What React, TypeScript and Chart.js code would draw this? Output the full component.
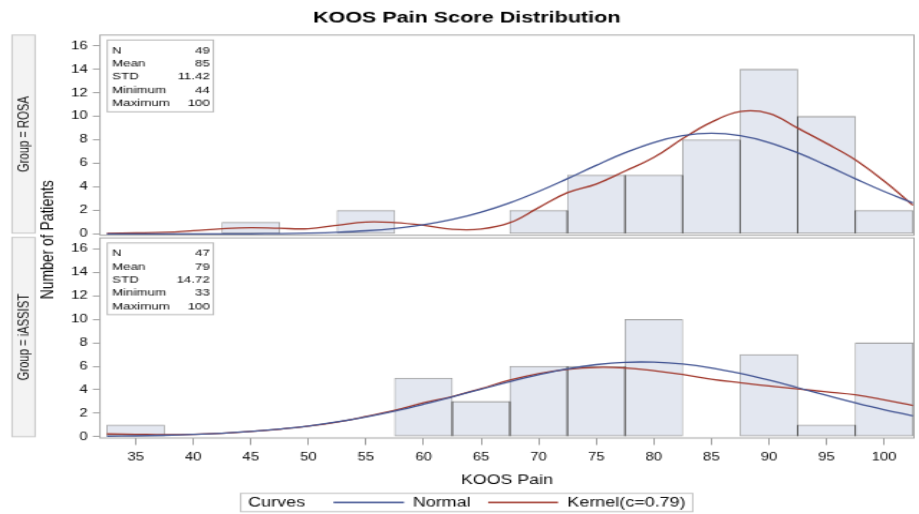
import React, { useEffect, useRef } from 'react';
import { Chart, registerables } from 'chart.js';

Chart.register(...registerables);

const FONT = '"Liberation Sans", Arial, Helvetica, sans-serif';

// ---- data ----
const chartTitle = 'KOOS Pain Score Distribution';
const xTitle = 'KOOS Pain';
const yTitle = 'Number of Patients';
const groupLabels = ['Group = ROSA', 'Group = iASSIST'];
const legendTitle = 'Curves';
const legendLabels = ['Normal', 'Kernel(c=0.79)'];

const xTicks = [35, 40, 45, 50, 55, 60, 65, 70, 75, 80, 85, 90, 95, 100];
const yTicks = [0, 2, 4, 6, 8, 10, 12, 14, 16];

const binCenters = [35, 40, 45, 50, 55, 60, 65, 70, 75, 80, 85, 90, 95, 100];
const rosaCounts = [0, 0, 1, 0, 2, 0, 0, 2, 5, 5, 8, 14, 10, 2];
const iassistCounts = [1, 0, 0, 0, 0, 5, 3, 6, 6, 10, 0, 7, 1, 8];

const curveX = [32.5, 35, 37.5, 40, 42.5, 45, 47.5, 50, 52.5, 55, 57.5, 60, 62.5, 65, 67.5, 70, 72.5, 75, 77.5, 80, 82.5, 85, 87.5, 90, 92.5, 95, 97.5, 100, 102.5];
const rosaNormal = [0.0002, 0.0006, 0.0015, 0.0036, 0.0084, 0.019, 0.039, 0.078, 0.149, 0.272, 0.472, 0.78, 1.229, 1.848, 2.645, 3.613, 4.702, 5.834, 6.899, 7.778, 8.357, 8.56, 8.357, 7.778, 6.899, 5.834, 4.702, 3.613, 2.645];
const rosaKernel = [0.06, 0.09, 0.14, 0.28, 0.45, 0.54, 0.48, 0.45, 0.74, 1.02, 0.97, 0.74, 0.4, 0.42, 0.96, 2.24, 3.51, 4.25, 5.35, 6.5, 8.1, 9.5, 10.4, 10.25, 9.0, 7.7, 6.3, 4.5, 2.45];
const iassistNormal = [0.043, 0.073, 0.12, 0.19, 0.29, 0.44, 0.65, 0.91, 1.26, 1.69, 2.19, 2.77, 3.4, 4.05, 4.69, 5.28, 5.78, 6.14, 6.34, 6.35, 6.19, 5.86, 5.39, 4.82, 4.18, 3.53, 2.89, 2.3, 1.78];
const iassistKernel = [0.23, 0.2, 0.17, 0.2, 0.29, 0.44, 0.64, 0.9, 1.25, 1.72, 2.25, 2.88, 3.42, 4.1, 4.82, 5.38, 5.74, 5.91, 5.86, 5.63, 5.31, 4.9, 4.6, 4.32, 4.08, 3.82, 3.57, 3.15, 2.67];

const statLabels = ['N', 'Mean', 'STD', 'Minimum', 'Maximum'];
const rosaStats = ['49', '85', '11.42', '44', '100'];
const iassistStats = ['47', '79', '14.72', '33', '100'];

// ---- styles ----
const BLUE = '#445694';
const RED = '#A23A2E';
const BAR_FILL = '#e3e7f0';
const BAR_EDGE = '#9c9c9c';
const TEXT = '#0a0a0a';

export default function App() {
  const ref = useRef<HTMLCanvasElement>(null);

  useEffect(() => {
    const canvas = ref.current;
    if (!canvas) return;

    const toBars = (counts: number[]) =>
      binCenters.map((x, i) => ({ x, y: counts[i] === 0 ? null : counts[i] }));
    const toCurve = (vals: number[]) => curveX.map((x, i) => ({ x, y: vals[i] }));

    const barDs = (label: string, counts: number[], axis: string) => ({
      type: 'bar' as const,
      label,
      data: toBars(counts),
      yAxisID: axis,
      xAxisID: 'x',
      backgroundColor: BAR_FILL,
      borderColor: BAR_EDGE,
      borderWidth: { top: 1.1, bottom: 1, left: 0.75, right: 0.75 },
      borderSkipped: false,
      grouped: false,
      barPercentage: 1,
      categoryPercentage: 1,
      order: 2,
    });
    const lineDs = (label: string, vals: number[], axis: string, color: string) => ({
      type: 'line' as const,
      label,
      data: toCurve(vals),
      yAxisID: axis,
      xAxisID: 'x',
      borderColor: color,
      borderWidth: 1.3,
      pointRadius: 0,
      tension: 0.4,
      fill: false,
      order: 1,
    });

    const yScale = (min: number, max: number, weight: number) => ({
      type: 'linear' as const,
      position: 'left' as const,
      stack: 'panels',
      stackWeight: 1,
      weight,
      min,
      max,
      offset: false,
      afterBuildTicks: (s: any) => {
        s.ticks = yTicks.map((v) => ({ value: v }));
      },
      afterFit: (s: any) => {
        s.width = 69.6;
      },
      grid: { offset: false, drawOnChartArea: false, drawTicks: true, tickLength: 5, color: '#a0a0a0', lineWidth: 1 },
      border: { display: false },
      ticks: { font: { family: FONT, size: 10.4 }, color: TEXT, padding: 3.5, autoSkip: false },
    });

    const decor = {
      id: 'decor',
      afterDatasetDraw(chart: any, args: any) {
        const meta = args.meta;
        if (meta.type !== 'bar') return;
        const ctx = chart.ctx;
        const els = meta.data;
        const ds = chart.data.datasets[args.index];
        ctx.save();
        ctx.strokeStyle = '#505050';
        ctx.lineWidth = 0.9;
        for (let i = 0; i < els.length - 1; i++) {
          const a = ds.data[i];
          const b = ds.data[i + 1];
          if (a.y == null || b.y == null) continue;
          const pa = els[i].getProps(['x', 'y', 'base', 'width'], true);
          const pb = els[i + 1].getProps(['x', 'y', 'base', 'width'], true);
          const ex = (pa.x + pa.width / 2 + pb.x - pb.width / 2) / 2;
          const top = Math.max(pa.y, pb.y);
          ctx.beginPath();
          ctx.moveTo(ex, pa.base);
          ctx.lineTo(ex, top);
          ctx.stroke();
        }
        ctx.restore();
      },
      afterDraw(chart: any) {
        const ctx = chart.ctx;
        const yT = chart.scales.yTop;
        const yB = chart.scales.yBot;
        const L = chart.chartArea.left;
        const R = chart.chartArea.right;
        const cx = chart.width / 2 + 5;
        ctx.save();

        // title
        ctx.fillStyle = '#000';
        ctx.font = `bold 15px ${FONT}`;
        ctx.textAlign = 'center';
        ctx.textBaseline = 'middle';
        ctx.fillText(chartTitle, cx, 17.2);

        // panel borders
        const panels = [
          { top: yT.top, bottom: yT.bottom - 1.3, stats: rosaStats },
          { top: yB.top + 1.3, bottom: yB.bottom, stats: iassistStats },
        ];
        ctx.strokeStyle = '#a8a8a8';
        ctx.lineWidth = 1;
        panels.forEach((p) => ctx.strokeRect(L, p.top, R - L, p.bottom - p.top));

        // group strips
        const strips = [
          { top: yT.top, bottom: yT.bottom - 3.2 },
          { top: yB.top + 0.8, bottom: yB.bottom - 1.2 },
        ];
        strips.forEach((s, i) => {
          ctx.fillStyle = '#f3f3f3';
          ctx.fillRect(8.4, s.top, 16, s.bottom - s.top);
          ctx.strokeStyle = '#c8c8c8';
          ctx.strokeRect(8.4, s.top, 16, s.bottom - s.top);
          ctx.save();
          ctx.translate(17, (s.top + s.bottom) / 2);
          ctx.rotate(-Math.PI / 2);
          ctx.fillStyle = TEXT;
          ctx.font = `10.5px ${FONT}`;
          ctx.textAlign = 'center';
          ctx.textBaseline = 'middle';
          ctx.fillText(groupLabels[i], 0, 0);
          ctx.restore();
        });

        // y title
        ctx.save();
        ctx.translate(33, (yT.top + yB.bottom) / 2 + 3);
        ctx.rotate(-Math.PI / 2);
        ctx.fillStyle = TEXT;
        ctx.font = `13px ${FONT}`;
        ctx.textAlign = 'center';
        ctx.textBaseline = 'middle';
        ctx.fillText(yTitle, 0, 0);
        ctx.restore();

        // stats boxes
        panels.forEach((p) => {
          const bx = L + 5.1;
          const by = p.top + 4.7;
          ctx.fillStyle = '#fff';
          ctx.fillRect(bx, by, 73.9, 67);
          ctx.strokeStyle = '#b8b8b8';
          ctx.strokeRect(bx, by, 73.9, 67);
          ctx.font = `9.3px ${FONT}`;
          ctx.fillStyle = TEXT;
          ctx.textBaseline = 'middle';
          statLabels.forEach((lab, i) => {
            const ry = by + 9.9 + i * 12.3;
            ctx.textAlign = 'left';
            ctx.fillText(lab, bx + 3.3, ry);
            ctx.textAlign = 'right';
            ctx.fillText(p.stats[i], bx + 71.5, ry);
          });
        });

        // legend
        const lw = 314.8;
        const lx = cx - lw / 2;
        const ly = 460.7;
        const lh = 17.1;
        const my = ly + lh / 2;
        ctx.strokeStyle = '#c0c0c0';
        ctx.strokeRect(lx, ly, lw, lh);
        ctx.font = `12.5px ${FONT}`;
        ctx.fillStyle = TEXT;
        ctx.textAlign = 'left';
        ctx.textBaseline = 'middle';
        ctx.fillText(legendTitle, lx + 5.2, my);
        const items = [
          { label: legendLabels[0], color: BLUE, x0: lx + 64.6, x1: lx + 113.8, tx: lx + 119.8 },
          { label: legendLabels[1], color: RED, x0: lx + 172.3, x1: lx + 221, tx: lx + 227.5 },
        ];
        items.forEach((it) => {
          ctx.strokeStyle = it.color;
          ctx.lineWidth = 1.3;
          ctx.beginPath();
          ctx.moveTo(it.x0, my);
          ctx.lineTo(it.x1, my);
          ctx.stroke();
          ctx.fillStyle = TEXT;
          ctx.fillText(it.label, it.tx, my);
        });

        ctx.restore();
      },
    };

    const chart = new Chart(canvas, {
      type: 'bar',
      data: {
        datasets: [
          barDs('ROSA', rosaCounts, 'yTop'),
          barDs('iASSIST', iassistCounts, 'yBot'),
          lineDs('Normal ROSA', rosaNormal, 'yTop', BLUE),
          lineDs('Kernel ROSA', rosaKernel, 'yTop', RED),
          lineDs('Normal iASSIST', iassistNormal, 'yBot', BLUE),
          lineDs('Kernel iASSIST', iassistKernel, 'yBot', RED),
        ] as any,
      },
      options: {
        responsive: false,
        animation: false,
        devicePixelRatio: 1,
        events: [],
        layout: { padding: { left: 0, right: 3.5, top: 32.7, bottom: 23.5 } },
        plugins: {
          legend: { display: false },
          title: { display: false },
          tooltip: { enabled: false },
        },
        scales: {
          x: {
            type: 'linear',
            position: 'bottom',
            min: 31.9,
            max: 102.6,
            offset: false,
            afterBuildTicks: (s: any) => {
              s.ticks = xTicks.map((v) => ({ value: v }));
            },
            afterFit: (s: any) => {
              s.height = 47.5;
            },
            grid: { offset: false, drawOnChartArea: false, drawTicks: true, tickLength: 6.5, color: '#a0a0a0', lineWidth: 1 },
            border: { display: false },
            ticks: { font: { family: FONT, size: 10.4 }, color: TEXT, padding: 5, maxRotation: 0, autoSkip: false },
            title: { display: true, text: xTitle, font: { family: FONT, size: 12.4 }, color: TEXT, padding: 0 },
          },
          yTop: yScale(-0.214, 16.91, 2),
          yBot: yScale(-0.11, 17.06, 1),
        } as any,
      },
      plugins: [decor],
    });

    return () => chart.destroy();
  }, []);

  return (
    <div style={{ position: 'fixed', left: 0, top: 0, width: 919, height: 514, background: '#fff' }}>
      <canvas ref={ref} width={640} height={480} style={{ width: '919px', height: '514px', display: 'block' }} />
    </div>
  );
}
